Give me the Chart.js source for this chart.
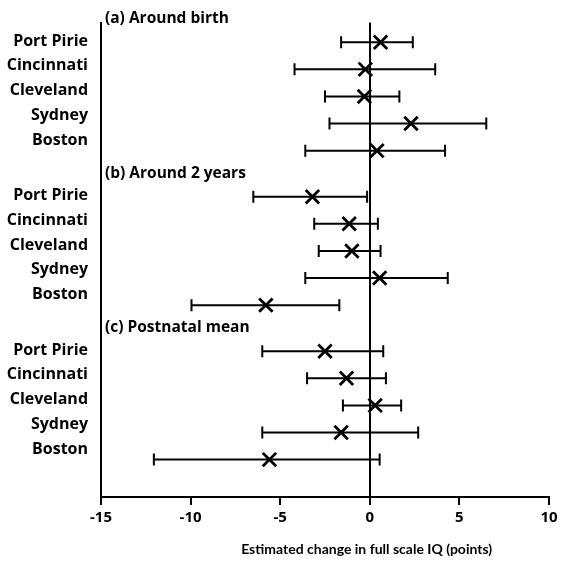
<!DOCTYPE html>
<html><head><meta charset="utf-8">
<script src="https://cdn.jsdelivr.net/npm/chart.js@4"></script>
<style>html,body{margin:0;padding:0;background:#fff}#wrap{width:571px;height:564px;position:relative}</style>
</head><body><div id="wrap"><canvas id="c"></canvas></div>
<script>
// ---- data ----
const cities = ['Port Pirie', 'Cincinnati', 'Cleveland', 'Sydney', 'Boston'];
const panelTitles = ['(a) Around birth', '(b) Around 2 years', '(c) Postnatal mean'];

const birthEst = [0.6, -0.25, -0.3, 2.3, 0.4];
const birthLo  = [-1.6, -4.2, -2.5, -2.25, -3.6];
const birthHi  = [2.4, 3.65, 1.65, 6.5, 4.2];

const twoYrEst = [-3.2, -1.15, -1.0, 0.55, -5.8];
const twoYrLo  = [-6.5, -3.1, -2.85, -3.6, -9.95];
const twoYrHi  = [-0.15, 0.45, 0.6, 4.35, -1.7];

const postEst = [-2.5, -1.3, 0.3, -1.6, -5.6];
const postLo  = [-6.0, -3.5, -1.5, -6.0, -12.05];
const postHi  = [0.75, 0.9, 1.75, 2.7, 0.55];

const xTicks = [-15, -10, -5, 0, 5, 10];
const xTitle = 'Estimated change in full scale IQ (points)';

// ---- layout helpers ----
const PANEL_STRIDE = 5.7;
const LABEL_STEP = 0.913;
const LABEL_OFF = -0.04;
const TITLE_OFF = -0.86;

const panels = [
  {est: birthEst, lo: birthLo, hi: birthHi},
  {est: twoYrEst, lo: twoYrLo, hi: twoYrHi},
  {est: postEst, lo: postLo, hi: postHi}
];
const points = [], bars = [], labelPos = [], labelText = [];
panels.forEach((p, pi) => {
  p.est.forEach((v, i) => {
    const y = pi * PANEL_STRIDE + i;
    points.push({x: v, y: y});
    bars.push({lo: p.lo[i], hi: p.hi[i], y: y});
    labelPos.push(pi * PANEL_STRIDE + LABEL_OFF + i * LABEL_STEP);
    labelText.push(cities[i]);
  });
});

const FONT = '"Open Sans", sans-serif';
const FONT2 = 'Lato, sans-serif';

const errorBars = {
  id: 'errorBars',
  beforeDatasetsDraw(chart) {
    const {ctx, scales: {x, y}} = chart;
    ctx.save();
    ctx.strokeStyle = '#000';
    ctx.lineWidth = 2;
    bars.forEach(b => {
      const x1 = x.getPixelForValue(b.lo), x2 = x.getPixelForValue(b.hi), py = y.getPixelForValue(b.y);
      ctx.beginPath();
      ctx.moveTo(x1, py); ctx.lineTo(x2, py);
      ctx.moveTo(x1, py - 6); ctx.lineTo(x1, py + 6);
      ctx.moveTo(x2, py - 6); ctx.lineTo(x2, py + 6);
      ctx.stroke();
    });
    ctx.restore();
  }
};
const textPlugin = {
  id: 'panelTitles',
  afterDraw(chart) {
    const {ctx, chartArea, scales: {y}} = chart;
    ctx.save();
    ctx.fillStyle = '#000';
    ctx.font = 'bold 15.5px ' + FONT;
    ctx.textBaseline = 'middle';
    ctx.textAlign = 'left';
    panelTitles.forEach((t, pi) => {
      ctx.fillText(t, chartArea.left + 4, y.getPixelForValue(pi * PANEL_STRIDE + TITLE_OFF));
    });
    // axis title
    ctx.font = 'bold 14px ' + FONT2;
    ctx.textAlign = 'center';
    ctx.fillText(xTitle, chartArea.left + (chartArea.right - chartArea.left) * 0.593, chart.height - 15);
    ctx.restore();
  }
};

new Chart(document.getElementById('c'), {
  type: 'scatter',
  data: {
    datasets: [{
      data: points,
      pointStyle: 'crossRot',
      pointRadius: 9.5,
      pointHoverRadius: 9.5,
      borderColor: '#000',
      backgroundColor: '#000',
      pointBorderWidth: 2.8,
      showLine: false
    }]
  },
  options: {
    responsive: true,
    maintainAspectRatio: false,
    animation: false,
    events: [],
    layout: {padding: {top: 22, right: 22, bottom: 0, left: 0}},
    plugins: {legend: {display: false}, tooltip: {enabled: false}},
    scales: {
      x: {
        type: 'linear',
        min: -15, max: 10,
        afterBuildTicks: s => { s.ticks = xTicks.map(v => ({value: v})); },
        afterFit: s => { s.height = 67; },
        border: {display: true, color: '#000', width: 2},
        grid: {
          display: true,
          drawOnChartArea: true,
          drawTicks: true,
          tickLength: 8,
          tickColor: '#000',
          lineWidth: 2,
          color: c => (c.tick && c.tick.value === 0) ? '#000' : 'rgba(0,0,0,0)'
        },
        ticks: {color: '#000', padding: 4, font: {family: FONT, size: 15, weight: 'bold'}}
      },
      y: {
        type: 'linear',
        reverse: true,
        min: -0.725, max: 16.78,
        afterBuildTicks: s => { s.ticks = labelPos.map(v => ({value: v})); },
        afterFit: s => { s.width = 101; },
        border: {display: true, color: '#000', width: 2},
        grid: {display: false, drawTicks: false},
        ticks: {
          color: '#000',
          padding: 13,
          autoSkip: false,
          font: {family: FONT, size: 16, weight: 'bold'},
          callback: (v, i) => labelText[i]
        }
      }
    }
  },
  plugins: [errorBars, textPlugin]
});
</script>
</body></html>
